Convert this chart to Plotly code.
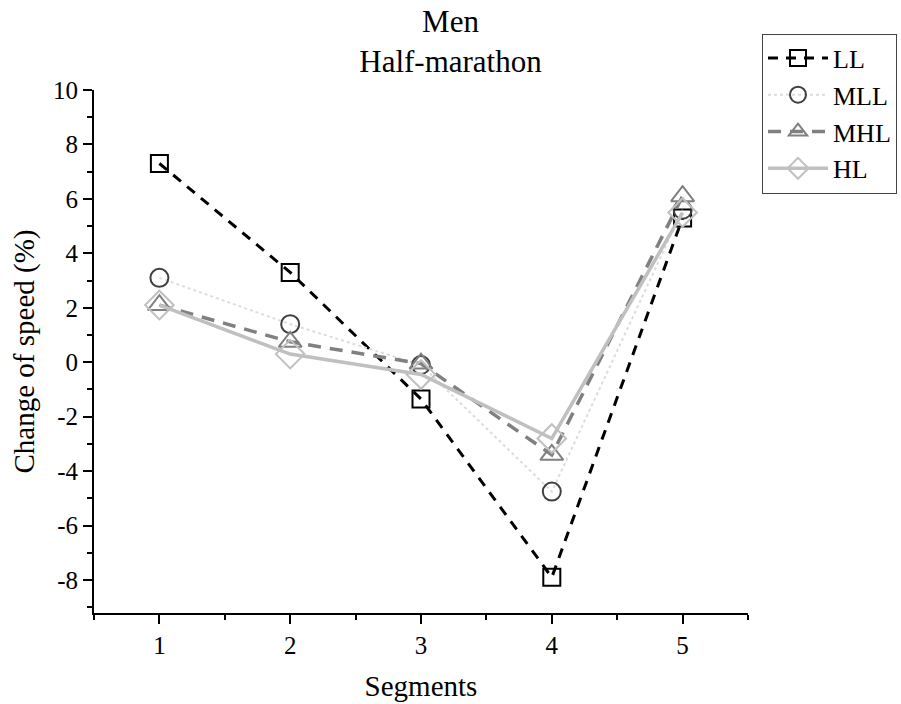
import plotly.graph_objects as go

segments = [1, 2, 3, 4, 5]
ll = [7.3, 3.3, -1.35, -7.9, 5.3]
mll = [3.1, 1.4, -0.1, -4.75, 5.6]
mhl = [2.1, 0.75, -0.05, -3.4, 6.1]
hl = [2.1, 0.3, -0.45, -2.8, 5.5]

y_ticks = [-8, -6, -4, -2, 0, 2, 4, 6, 8, 10]
y_tick_labels = ["-8", "-6", "-4", "-2", "0", "2", "4", "6", "8", "10"]
x_ticks = [1, 2, 3, 4, 5]

FONT = "Liberation Serif"

fig = go.Figure()
fig.add_trace(go.Scatter(
    x=segments, y=ll, name="LL", mode="lines+markers",
    line=dict(color="black", width=3, dash="10px,8px"),
    marker=dict(symbol="square-open", size=17, color="black", line=dict(width=2))))
fig.add_trace(go.Scatter(
    x=segments, y=mll, name="MLL", mode="lines+markers",
    line=dict(color="#dcdcdc", width=2, dash="dot"),
    marker=dict(symbol="circle-open", size=18, color="#404040", line=dict(width=2))))
fig.add_trace(go.Scatter(
    x=segments, y=mhl, name="MHL", mode="lines+markers",
    line=dict(color="#808080", width=3.5, dash="13px,9px"),
    marker=dict(symbol="triangle-up-open", size=20, color="#808080", line=dict(width=2))))
fig.add_trace(go.Scatter(
    x=segments, y=hl, name="HL", mode="lines+markers",
    line=dict(color="#c0c0c0", width=3.5),
    marker=dict(symbol="diamond-open", size=22, color="#c0c0c0", line=dict(width=2))))

fig.update_layout(
    width=901, height=704,
    margin=dict(l=94, r=153, t=90, b=91, autoexpand=False),
    plot_bgcolor="white", paper_bgcolor="white",
    font=dict(family=FONT, size=25, color="black"),
    title=dict(text="Men<br>Half-marathon", x=0.5, xanchor="center",
               y=0.955, yanchor="top", yref="container",
               font=dict(family=FONT, size=31, color="black")),
    legend=dict(x=1.0214, y=1.108, xanchor="left", yanchor="top",
                bordercolor="#444444", borderwidth=1, bgcolor="white",
                font=dict(family=FONT, size=26), tracegroupgap=0,
                itemwidth=60),
    showlegend=True,
)
fig.update_xaxes(
    range=[0.5, 5.5], tickvals=x_ticks, ticktext=[str(v) for v in x_ticks],
    showline=True, linecolor="black", linewidth=2, mirror=False,
    ticks="outside", ticklen=9, tickwidth=2, tickcolor="black",
    minor=dict(ticks="outside", ticklen=5, tickwidth=2, tickcolor="black", dtick=0.5, tick0=0.5),
    showgrid=False, zeroline=False,
    title=dict(text="Segments", font=dict(family=FONT, size=29), standoff=18),
    tickfont=dict(family=FONT, size=25),
)
fig.update_yaxes(
    range=[-9.21, 10], tickvals=y_ticks, ticktext=y_tick_labels,
    showline=True, linecolor="black", linewidth=2, mirror=False,
    ticks="outside", ticklen=9, tickwidth=2, tickcolor="black",
    minor=dict(ticks="outside", ticklen=5, tickwidth=2, tickcolor="black", dtick=1, tick0=0),
    showgrid=False, zeroline=False,
    title=dict(text="Change of speed (%)", font=dict(family=FONT, size=29), standoff=10),
    tickfont=dict(family=FONT, size=25),
)
fig.write_html("out.html")
